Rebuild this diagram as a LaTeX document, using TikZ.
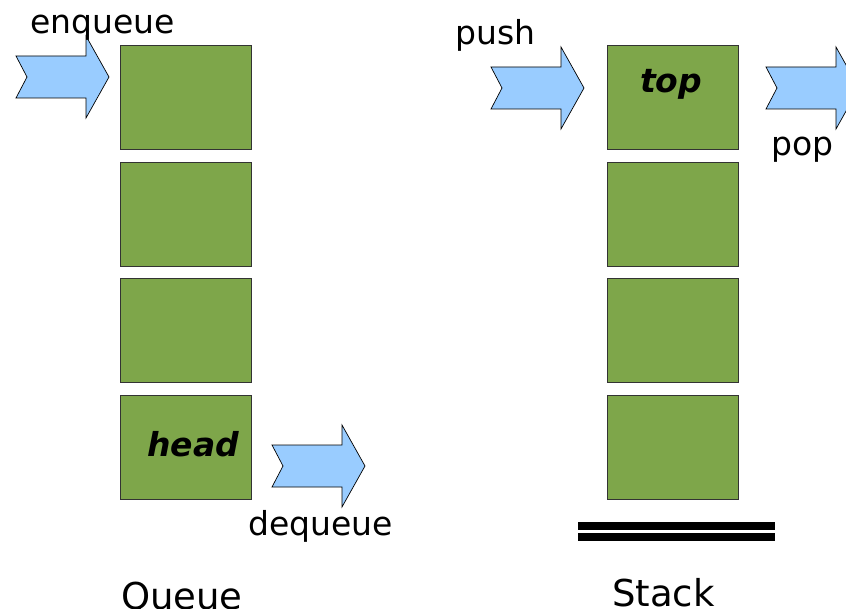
\documentclass[tikz,border=0pt]{standalone}
\usepackage{fontspec}
\setmainfont{DejaVu Sans}
\definecolor{cellgreen}{HTML}{7EA64A}
\definecolor{arrowblue}{HTML}{99CCFF}
\definecolor{edgegray}{HTML}{333333}
\begin{document}
\begin{tikzpicture}[x=1pt,y=-1pt,
  cell/.style={draw=edgegray, line width=0.8pt, fill=cellgreen, rectangle,
    minimum width=131pt, minimum height=104pt, inner sep=0pt, anchor=north west},
  lbl/.style={font=\fontsize{33}{33}\selectfont, inner sep=0pt, anchor=base west},
  title/.style={font=\fontsize{37}{37}\selectfont, inner sep=0pt, anchor=base west},
  tag/.style={font=\fontsize{33}{33}\selectfont\bfseries\itshape, inner sep=0pt, anchor=base west},
  shelf/.style={line width=7.5pt},
  pics/blockarrow/.style={code={
    \fill[arrowblue, draw=black, line width=0.7pt, line join=miter]
      (0,-21) -- (70,-21) -- (70,-41) -- (93,0) -- (70,41) -- (70,21)
      -- (0,21) -- (11,0) -- cycle;
  }}]
\useasboundingbox (0,0) rectangle (846,609);

% queue cells
\node[cell] (q1) at (120,45) {};
\node[cell] (q2) at (120,162) {};
\node[cell] (q3) at (120,278) {};
\node[cell] (q4) at (120,395) {};
\node[tag] (head) at (147,456) {head};

% stack cells
\node[cell] (s1) at (607,45) {};
\node[cell] (s2) at (607,162) {};
\node[cell] (s3) at (607,278) {};
\node[cell] (s4) at (607,395) {};
\node[tag] (top) at (640,93) {top};

% operation arrows
\pic (enq) at (16,77) {blockarrow};
\pic (deq) at (272,466) {blockarrow};
\pic (psh) at (491,88) {blockarrow};
\pic (pp) at (766,88) {blockarrow};

% operation labels
\node[lbl] (enqlbl) at (30,34) {enqueue};
\node[lbl] (deqlbl) at (248,535) {dequeue};
\node[lbl] (pshlbl) at (455,45) {push};
\node[lbl] (pplbl) at (771,156) {pop};

% stack base
\coordinate (b1l) at (578,526);
\coordinate (b1r) at (775,526);
\coordinate (b2l) at (578,537);
\coordinate (b2r) at (775,537);
\draw[shelf] (b1l) -- (b1r);
\draw[shelf] (b2l) -- (b2r);

% titles
\node[title] (qtitle) at (121,609) {Queue};
\node[title] (stitle) at (612,606) {Stack};
\end{tikzpicture}
\end{document}
